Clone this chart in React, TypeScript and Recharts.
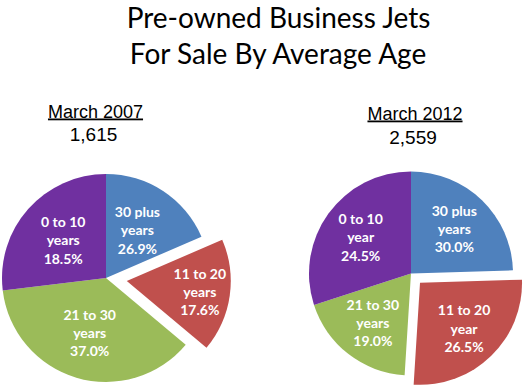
import { PieChart, Pie, Cell } from 'recharts'

// slice order: clockwise from 12 o'clock
const names2007 = ['30 plus years', '11 to 20 years', '21 to 30 years', '0 to 10 years']
const values2007 = [18.5, 17.6, 37.0, 26.9] // slice sizes as drawn
const printed2007 = ['26.9%', '17.6%', '37.0%', '18.5%'] // percentages as printed on the slices

const names2012 = ['30 plus years', '11 to 20 year', '21 to 30 years', '0 to 10 year']
const values2012 = [24.5, 26.5, 19.0, 30.0]
const printed2012 = ['30.0%', '26.5%', '19.0%', '24.5%']

const colors = ['#4F81BD', '#C0504D', '#9BBB59', '#7030A0']
const EXPLODED = 1
const RAD = Math.PI / 180

function explodeOffset(values: number[], dist: number) {
  const total = values.reduce((a, b) => a + b, 0)
  const before = values.slice(0, EXPLODED).reduce((a, b) => a + b, 0)
  const frac = (before + values[EXPLODED] / 2) / total
  const ang = (90 - 360 * frac) * RAD
  return { dx: dist * Math.cos(ang), dy: -dist * Math.sin(ang) }
}

function makeLabel(names: string[], pcts: string[], k: number, exploded: boolean) {
  return (props: any) => {
    const { cx, cy, midAngle, outerRadius, index } = props
    if ((index === EXPLODED) !== exploded) return <g />
    const r = outerRadius * k
    const x = cx + r * Math.cos(-midAngle * RAD)
    const y = cy + r * Math.sin(-midAngle * RAD)
    const name = names[index]
    const cut = name.lastIndexOf(' ')
    const lines = [name.slice(0, cut), name.slice(cut + 1), pcts[index]]
    return (
      <text x={x} y={y} textAnchor="middle" fill="#fff" fontFamily="Lato" fontWeight="bold" fontSize={14}>
        {lines.map((l, i) => (
          <tspan key={i} x={x} dy={i === 0 ? -13 : 18.3}>{l}</tspan>
        ))}
      </text>
    )
  }
}

function PiePair({ values, names, pcts, cx, cy, r, dist, k, kx }: any) {
  const off = explodeOffset(values, dist)
  const data = values.map((v: number, i: number) => ({ name: names[i], value: v }))
  return [
    <Pie key="main" data={data} dataKey="value" cx={cx} cy={cy} outerRadius={r} startAngle={90} endAngle={-270}
      stroke="none" isAnimationActive={false} labelLine={false} label={makeLabel(names, pcts, k, false)}>
      {data.map((_: any, i: number) => <Cell key={i} fill={i === EXPLODED ? 'transparent' : colors[i]} />)}
    </Pie>,
    <Pie key="exp" data={data} dataKey="value" cx={cx + off.dx} cy={cy + off.dy} outerRadius={r} startAngle={90} endAngle={-270}
      stroke="none" isAnimationActive={false} labelLine={false} label={makeLabel(names, pcts, kx, true)}>
      {data.map((_: any, i: number) => <Cell key={i} fill={i === EXPLODED ? colors[i] : 'transparent'} />)}
    </Pie>,
  ]
}

export default function App() {
  return (
    <div style={{ position: 'absolute', left: 0, top: 0, width: 525, height: 388, background: '#fff' }}>
      <PieChart width={525} height={388} margin={{ top: 0, right: 0, bottom: 0, left: 0 }}>
        {PiePair({ values: values2007, names: names2007, pcts: printed2007, cx: 106, cy: 278, r: 104, dist: 21, k: 0.55, kx: 0.71 })}
        {PiePair({ values: values2012, names: names2012, pcts: printed2012, cx: 411, cy: 273.5, r: 102, dist: 13, k: 0.61, kx: 0.62 })}
      </PieChart>
      <svg width={525} height={388} style={{ position: 'absolute', left: 0, top: 0, pointerEvents: 'none' }}>
        <g fontFamily="Lato" fontSize={28} fill="#000" textAnchor="middle">
          <text x={278.5} y={28}>Pre-owned Business Jets</text>
          <text x={278} y={64}>For Sale By Average Age</text>
        </g>
        <g fontFamily="Liberation Sans" fill="#000" textAnchor="middle">
          <text x={95.5} y={117.5} fontSize={18} style={{ textDecoration: 'underline' }}>March 2007</text>
          <text x={93.5} y={141} fontSize={19}>1,615</text>
          <text x={415} y={119.5} fontSize={18} style={{ textDecoration: 'underline' }}>March 2012</text>
          <text x={413} y={143.5} fontSize={19}>2,559</text>
        </g>
      </svg>
    </div>
  )
}
